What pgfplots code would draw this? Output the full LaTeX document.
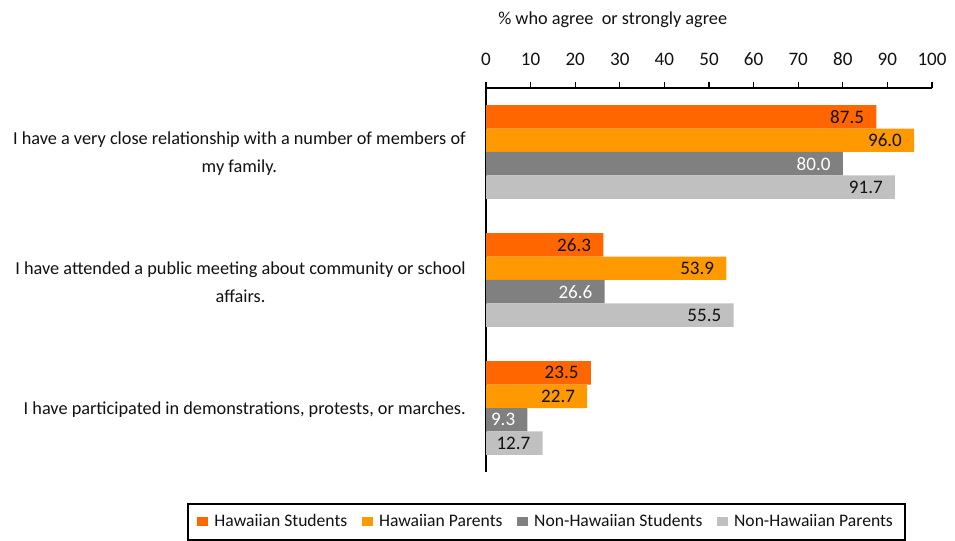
\documentclass[border=0pt]{standalone}
\usepackage{pgfplots}
\pgfplotsset{compat=1.18}
\usepackage{fontspec}
\setmainfont{Carlito}
\definecolor{hs}{HTML}{FF6600}
\definecolor{hp}{HTML}{FF9900}
\definecolor{ns}{HTML}{808080}
\definecolor{np}{HTML}{C0C0C0}
\definecolor{txt}{HTML}{111111}
\newcommand\F{\fontsize{13.7}{21}\selectfont}
\newcommand\D{\fontsize{14.3}{17}\selectfont}
\begin{document}
\begin{tikzpicture}
\path[use as bounding box] (0,0) rectangle (716.25pt,-405.75pt);
\begin{axis}[
  at={(364.5pt,-66pt)}, anchor=north west,
  scale only axis, width=334.5pt, height=288pt,
  xbar, bar width=0.183,
  xmin=0, xmax=100, ymin=-0.5, ymax=2.5,
  axis x line*=top, axis y line*=left,
  x axis line style={line width=1pt},
  y axis line style={line width=1.6pt},
  xtick={0,10,...,100},
  tick align=outside,
  major tick length=4.5pt,
  xtick style={black, line width=1pt},
  ytick={0,1,2},
  yticklabels={{I have participated in demonstrations, protests, or marches.},
               {I have attended a public meeting about community or school\\affairs.},
               {I have a very close relationship with a number of members of\\my family.}},
  ytick style={draw=none},
  yticklabel style={align=center, font=\F, text=txt, inner sep=0pt, anchor=east, xshift=-10.5pt, yshift=-1.5pt},
  xticklabel style={font=\D, text=txt, yshift=9pt},
  /pgf/number format/assume math mode=true,
  point meta=x,
  nodes near coords={\pgfmathprintnumber[fixed,fixed zerofill,precision=1,assume math mode=true]{\pgfplotspointmeta}},
  nodes near coords style={font=\D, text=txt, anchor=east, inner sep=0pt, xshift=-9pt},
  legend columns=4,
  legend style={at={(0.1357,-0.0807)}, anchor=north, draw=black, line width=1.5pt,
    font=\fontsize{13.2}{16}\selectfont, text=txt, inner ysep=6pt, inner xsep=7pt,
    /tikz/every odd column/.append style={column sep=2.5pt},
    /tikz/every even column/.append style={column sep=9pt}},
  legend image code/.code={\fill[#1, draw=none] (0pt,-3.4pt) rectangle (8.25pt,3.6pt);},
  clip=false,
]
\addplot[fill=hs, draw=none, bar shift=0.2745] coordinates {(87.5,2) (26.3,1) (23.5,0)};
\addplot[fill=hp, draw=none, bar shift=0.0915] coordinates {(96.0,2) (53.9,1) (22.7,0)};
\addplot[fill=ns, draw=none, bar shift=-0.0915, nodes near coords style={text=white}] coordinates {(80.0,2) (26.6,1) (9.3,0)};
\addplot[fill=np, draw=none, bar shift=-0.2745] coordinates {(91.7,2) (55.5,1) (12.7,0)};
\legend{Hawaiian Students, Hawaiian Parents, Non-Hawaiian Students, Non-Hawaiian Parents}
\end{axis}
\node[anchor=west, font=\F, text=txt, inner sep=0pt] at (373.5pt,-15pt) {\% who agree\ \ or strongly agree};
\end{tikzpicture}
\end{document}
